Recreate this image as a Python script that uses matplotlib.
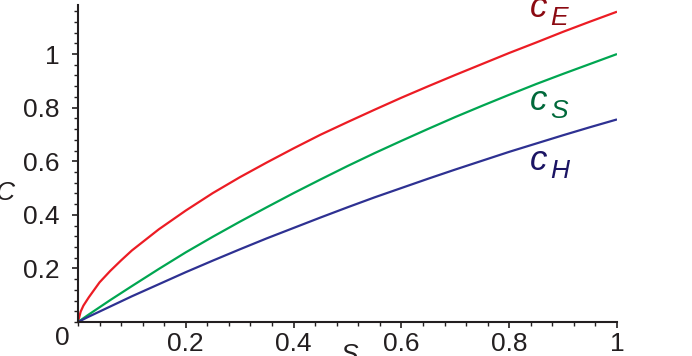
import matplotlib
matplotlib.use("Agg")
import matplotlib.pyplot as plt
from matplotlib.ticker import MultipleLocator, FixedLocator

# values
s_vals = [0.0, 0.005, 0.01, 0.02, 0.04, 0.06, 0.08, 0.1, 0.15, 0.2, 0.25, 0.3,
          0.35, 0.4, 0.45, 0.5, 0.55, 0.6, 0.65, 0.7, 0.75, 0.8, 0.85, 0.9,
          0.95, 1.0]
c_E = [0.0, 0.039, 0.061, 0.092, 0.148, 0.191, 0.230, 0.267, 0.346, 0.416,
       0.481, 0.540, 0.595, 0.648, 0.699, 0.746, 0.792, 0.837, 0.880, 0.922,
       0.963, 1.004, 1.043, 1.083, 1.121, 1.158]
c_S = [0.0, 0.007, 0.014, 0.028, 0.055, 0.082, 0.108, 0.134, 0.198, 0.260,
       0.318, 0.374, 0.428, 0.481, 0.532, 0.582, 0.630, 0.676, 0.721, 0.765,
       0.807, 0.848, 0.888, 0.926, 0.963, 1.0]
c_H = [0.0, 0.005, 0.010, 0.020, 0.039, 0.058, 0.077, 0.096, 0.141, 0.186,
       0.229, 0.271, 0.312, 0.351, 0.390, 0.428, 0.465, 0.500, 0.535, 0.569,
       0.602, 0.635, 0.666, 0.697, 0.727, 0.756]
x_ticks = [0.2, 0.4, 0.6, 0.8, 1.0]
x_labels = ["0.2", "0.4", "0.6", "0.8", "1"]
y_ticks = [0.2, 0.4, 0.6, 0.8, 1.0]
y_labels = ["0.2", "0.4", "0.6", "0.8", "1"]

W, H = 692, 356
fig = plt.figure(figsize=(W / 100, H / 100), dpi=100)
ax = fig.add_axes([78 / W, 34 / H, 539 / W, 317 / H])

font = "Liberation Sans"
ax.plot(s_vals, c_E, color="#ec1c24", lw=1.6, solid_capstyle="butt")
ax.plot(s_vals, c_S, color="#00a651", lw=1.6, solid_capstyle="butt")
ax.plot(s_vals, c_H, color="#2e3192", lw=1.6, solid_capstyle="butt")

ax.set_xlim(0, 1)
ax.set_ylim(0, 1.183)
for side in ["top", "right"]:
    ax.spines[side].set_visible(False)
for side in ["left", "bottom"]:
    ax.spines[side].set_linewidth(1.5)
    ax.spines[side].set_color("#231f20")

ax.xaxis.set_major_locator(FixedLocator(x_ticks))
ax.yaxis.set_major_locator(FixedLocator(y_ticks))
ax.set_xticklabels(x_labels, fontname=font, fontsize=19, color="#231f20")
ax.set_yticklabels(y_labels, fontname=font, fontsize=19, color="#231f20")
ax.xaxis.set_minor_locator(MultipleLocator(0.04))
ax.yaxis.set_minor_locator(MultipleLocator(0.04))
ax.tick_params(which="major", direction="out", length=4, width=1.2, color="#231f20")
ax.tick_params(which="minor", direction="out", length=3, width=1.0, color="#231f20")
ax.tick_params(axis="x", which="major", pad=3)
ax.tick_params(axis="y", which="major", pad=9)


def px(x, y):
    return x / W, 1 - y / H


# corner zero and axis names
fig.text(*px(70, 345), "0", fontname=font, fontsize=19, ha="right", va="baseline", color="#231f20")
fig.text(*px(15, 200), "C", fontname=font, fontsize=19, style="italic", ha="right", va="baseline", color="#231f20")
fig.text(*px(340, 362), "S", fontname=font, fontsize=19, style="italic", ha="left", va="baseline", color="#231f20")

# curve labels
labels = [("E", 17, 25, "#8b0a12"), ("S", 110, 118, "#00693a"), ("H", 170, 178, "#1b1464")]
for sub, base_c, base_sub, col in labels:
    fig.text(*px(530, base_c), "c", fontname=font, fontsize=25, style="italic", ha="left", va="baseline", color=col)
    fig.text(*px(550, base_sub), sub, fontname=font, fontsize=19, style="italic", ha="left", va="baseline", color=col)

fig.savefig("out.png", dpi=100)
